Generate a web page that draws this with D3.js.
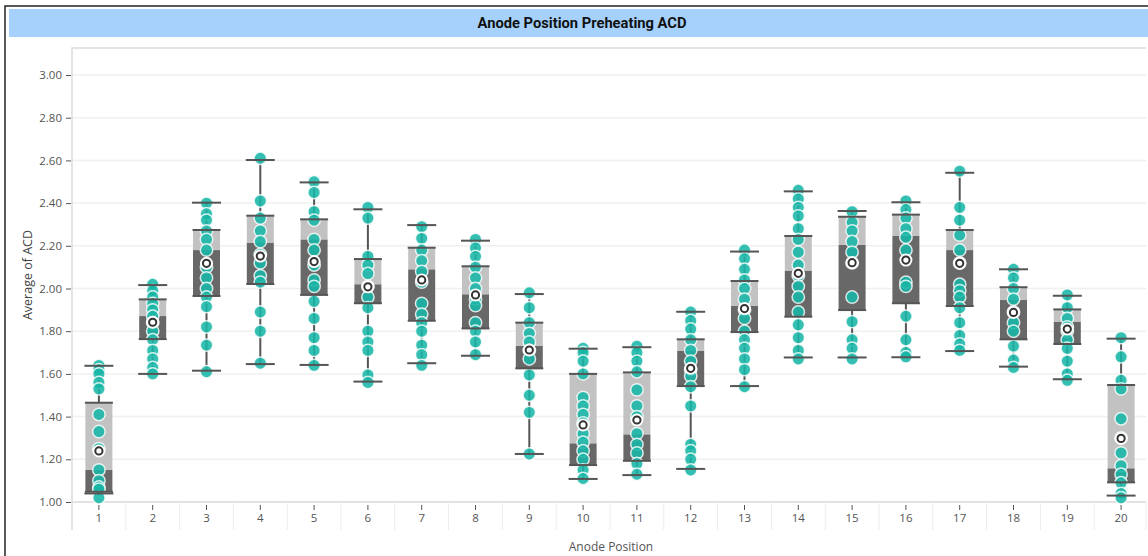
<!DOCTYPE html>
<html>
<head>
<meta charset="utf-8">
<script src="https://cdn.jsdelivr.net/npm/d3@7/dist/d3.min.js"></script>
<style>
  body { margin: 0; background: #fff; }
  svg { display: block; }
</style>
</head>
<body>
<div id="chart"></div>
<script>
// data
const categories = ["1","2","3","4","5","6","7","8","9","10","11","12","13","14","15","16","17","18","19","20"]
const whiskerLow = [1.04, 1.60, 1.615, 1.646, 1.642, 1.564, 1.650, 1.685, 1.225, 1.108, 1.126, 1.155, 1.543, 1.677, 1.677, 1.678, 1.707, 1.634, 1.575, 1.030]
const q1 = [1.048, 1.763, 1.965, 2.021, 1.970, 1.931, 1.849, 1.813, 1.626, 1.173, 1.193, 1.543, 1.796, 1.868, 1.899, 1.931, 1.918, 1.762, 1.740, 1.092]
const medians = [1.150, 1.871, 2.180, 2.215, 2.230, 2.020, 2.090, 1.973, 1.731, 1.275, 1.317, 1.709, 1.918, 2.084, 2.204, 2.246, 2.180, 1.946, 1.845, 1.158]
const q3 = [1.465, 1.949, 2.274, 2.341, 2.324, 2.138, 2.191, 2.104, 1.840, 1.600, 1.607, 1.762, 2.035, 2.246, 2.336, 2.346, 2.274, 2.006, 1.902, 1.548]
const whiskerHigh = [1.638, 2.016, 2.402, 2.602, 2.497, 2.371, 2.297, 2.224, 1.974, 1.718, 1.725, 1.891, 2.173, 2.455, 2.363, 2.404, 2.542, 2.090, 1.966, 1.765]
const means = [1.239, 1.842, 2.118, 2.152, 2.126, 2.008, 2.040, 1.970, 1.712, 1.361, 1.384, 1.626, 1.906, 2.071, 2.121, 2.133, 2.118, 1.888, 1.810, 1.298]
const points = [
  [1.64, 1.62, 1.60, 1.56, 1.53, 1.41, 1.33, 1.25, 1.15, 1.10, 1.07, 1.06, 1.02],
  [2.02, 1.99, 1.96, 1.93, 1.90, 1.87, 1.84, 1.80, 1.76, 1.71, 1.67, 1.63, 1.60],
  [2.40, 2.35, 2.32, 2.27, 2.23, 2.18, 2.10, 2.05, 2.00, 1.96, 1.915, 1.82, 1.735, 1.61],
  [2.61, 2.41, 2.33, 2.27, 2.22, 2.16, 2.12, 2.06, 2.03, 1.89, 1.80, 1.65],
  [2.50, 2.45, 2.36, 2.32, 2.23, 2.18, 2.11, 2.04, 2.01, 1.94, 1.86, 1.77, 1.71, 1.64],
  [2.38, 2.33, 2.15, 2.11, 2.07, 2.01, 1.96, 1.91, 1.80, 1.75, 1.71, 1.595, 1.56],
  [2.29, 2.235, 2.18, 2.13, 2.08, 2.03, 1.93, 1.88, 1.84, 1.80, 1.735, 1.69, 1.64],
  [2.23, 2.19, 2.15, 2.10, 2.05, 2.00, 1.95, 1.92, 1.84, 1.80, 1.75, 1.69],
  [1.98, 1.91, 1.84, 1.79, 1.75, 1.71, 1.67, 1.595, 1.50, 1.42, 1.225],
  [1.72, 1.70, 1.66, 1.60, 1.49, 1.45, 1.41, 1.37, 1.32, 1.28, 1.24, 1.20, 1.15, 1.11],
  [1.73, 1.70, 1.66, 1.61, 1.525, 1.45, 1.40, 1.32, 1.27, 1.23, 1.18, 1.13],
  [1.89, 1.85, 1.81, 1.76, 1.71, 1.66, 1.62, 1.59, 1.54, 1.45, 1.27, 1.24, 1.20, 1.15],
  [2.18, 2.14, 2.09, 2.04, 2.00, 1.95, 1.90, 1.86, 1.80, 1.76, 1.72, 1.67, 1.62, 1.54],
  [2.46, 2.42, 2.38, 2.34, 2.28, 2.23, 2.17, 2.11, 2.06, 2.01, 1.96, 1.89, 1.83, 1.77, 1.71, 1.67],
  [2.36, 2.31, 2.27, 2.22, 2.17, 2.12, 1.96, 1.845, 1.76, 1.72, 1.67],
  [2.41, 2.37, 2.33, 2.28, 2.24, 2.18, 2.03, 2.01, 1.87, 1.76, 1.70, 1.68],
  [2.55, 2.38, 2.32, 2.25, 2.18, 2.12, 2.02, 1.99, 1.96, 1.91, 1.84, 1.78, 1.74, 1.71],
  [2.09, 2.05, 2.00, 1.95, 1.89, 1.84, 1.80, 1.73, 1.665, 1.63],
  [1.97, 1.91, 1.86, 1.82, 1.80, 1.76, 1.72, 1.66, 1.60, 1.57],
  [1.77, 1.68, 1.57, 1.53, 1.39, 1.30, 1.23, 1.17, 1.13, 1.09, 1.04, 1.02]
]
const yTicks = [1.0, 1.2, 1.4, 1.6, 1.8, 2.0, 2.2, 2.4, 2.6, 2.8, 3.0]

const width = 1148, height = 556
const plot = { left: 72, right: 1146, top: 48, bottom: 502 }
const teal = "#17b6a6"
const dark = "#555"

const svg = d3.select("#chart").append("svg")
  .attr("width", width).attr("height", height)

// outer frame + title bar
svg.append("rect").attr("x", 5).attr("y", 6).attr("width", width).attr("height", height)
  .attr("fill", "none").attr("stroke", "#222").attr("stroke-width", 1.5)
svg.append("rect").attr("x", 9).attr("y", 9).attr("width", width - 9).attr("height", 28)
  .attr("fill", "#a5d1fc")
svg.append("text").attr("x", 582).attr("y", 28).attr("text-anchor", "middle")
  .attr("font-family", "Roboto, sans-serif")
  .attr("font-weight", "bold").attr("font-size", 15).attr("fill", "#111")
  .attr("textLength", 209).attr("lengthAdjust", "spacingAndGlyphs")
  .text("Anode Position Preheating ACD")

const x = d3.scaleBand().domain(categories).range([plot.left, 1148])
const y = d3.scaleLinear().domain([1, 3]).range([plot.bottom, 75])
const cx = c => x(c) + x.bandwidth() / 2
const boxW = 27, capW = 29

// grid
svg.append("g").selectAll("line").data(yTicks).join("line")
  .attr("x1", plot.left).attr("x2", plot.right)
  .attr("y1", d => y(d)).attr("y2", d => y(d))
  .attr("stroke", "#f0f0f0").attr("stroke-width", 1.5)

// plot frame
svg.append("path")
  .attr("d", `M${plot.left},${plot.bottom + 28}V${plot.top}H${plot.right}`)
  .attr("fill", "none").attr("stroke", "#dcdcdc").attr("stroke-width", 1.5)
svg.append("line").attr("x1", plot.left).attr("x2", plot.right)
  .attr("y1", plot.bottom).attr("y2", plot.bottom)
  .attr("stroke", "#dcdcdc").attr("stroke-width", 1.5)

// category dividers below the axis
svg.append("g").selectAll("line").data(categories.slice(1).concat(["end"])).join("line")
  .attr("x1", d => d === "end" ? plot.right : x(d)).attr("x2", d => d === "end" ? plot.right : x(d))
  .attr("y1", plot.bottom).attr("y2", plot.bottom + 28)
  .attr("stroke", "#ececec").attr("stroke-width", 1)

// y axis
const yAxis = svg.append("g").attr("transform", `translate(${plot.left - 1},0)`)
  .call(d3.axisLeft(y).tickValues(yTicks).tickFormat(d3.format(".2f")).tickSize(5).tickPadding(4))
yAxis.select(".domain").remove()
yAxis.selectAll(".tick line").attr("stroke", dark)
yAxis.selectAll(".tick text").attr("fill", "#555")
  .attr("font-family", "Open Sans, sans-serif").attr("font-size", 11.5)

// x axis
const xAxis = svg.append("g").attr("transform", `translate(0,${plot.bottom + 3})`)
  .call(d3.axisBottom(x).tickSize(5).tickPadding(4))
xAxis.select(".domain").remove()
xAxis.selectAll(".tick line").attr("stroke", dark)
xAxis.selectAll(".tick text").attr("fill", "#555")
  .attr("font-family", "Open Sans, sans-serif").attr("font-size", 11.5)

// axis titles
svg.append("text").attr("x", 611).attr("y", 551).attr("text-anchor", "middle")
  .attr("font-family", "Open Sans, sans-serif").attr("font-size", 12).attr("fill", "#555")
  .text("Anode Position")
svg.append("text").attr("transform", "translate(32,275) rotate(-90)").attr("text-anchor", "middle")
  .attr("font-family", "Open Sans, sans-serif").attr("font-size", 12.5).attr("fill", "#444")
  .text("Average of ACD")

const boxes = categories.map((c, i) => ({
  c, lo: whiskerLow[i], q1: q1[i], med: medians[i], q3: q3[i], hi: whiskerHigh[i],
  mean: means[i], pts: points[i]
}))

const g = svg.append("g")
const box = g.selectAll("g.box").data(boxes).join("g").attr("class", "box")

// whisker
box.append("line")
  .attr("x1", d => cx(d.c)).attr("x2", d => cx(d.c))
  .attr("y1", d => y(d.lo)).attr("y2", d => y(d.hi))
  .attr("stroke", dark).attr("stroke-width", 2)
// lower half (q1 to median)
box.append("rect")
  .attr("x", d => cx(d.c) - boxW / 2).attr("width", boxW)
  .attr("y", d => y(d.med)).attr("height", d => y(d.q1) - y(d.med))
  .attr("fill", "#686868")
// upper half (median to q3)
box.append("rect")
  .attr("x", d => cx(d.c) - boxW / 2).attr("width", boxW)
  .attr("y", d => y(d.q3)).attr("height", d => y(d.med) - y(d.q3))
  .attr("fill", "#c2c2c2")

// points
box.selectAll("circle.pt").data(d => d.pts.map(v => ({ c: d.c, v }))).join("circle")
  .attr("class", "pt")
  .attr("cx", d => cx(d.c)).attr("cy", d => y(d.v)).attr("r", 6.2)
  .attr("fill", teal).attr("fill-opacity", 0.88)
  .attr("stroke", "#fff").attr("stroke-opacity", 0.8).attr("stroke-width", 1.5)

// box edges and caps
const hLines = d => [
  { v: d.q3, w: boxW + 1 }, { v: d.q1, w: boxW + 1 },
  { v: d.hi, w: capW }, { v: d.lo, w: capW }
].map(l => ({ ...l, c: d.c }))
box.selectAll("line.cap").data(hLines).join("line").attr("class", "cap")
  .attr("x1", d => cx(d.c) - d.w / 2).attr("x2", d => cx(d.c) + d.w / 2)
  .attr("y1", d => y(d.v)).attr("y2", d => y(d.v))
  .attr("stroke", dark).attr("stroke-width", 2)

// mean marker
box.append("circle")
  .attr("cx", d => cx(d.c)).attr("cy", d => y(d.mean)).attr("r", 6.5)
  .attr("fill", "#fff")
box.append("circle")
  .attr("cx", d => cx(d.c)).attr("cy", d => y(d.mean)).attr("r", 3.6)
  .attr("fill", "#fff").attr("stroke", "#333").attr("stroke-width", 2)
</script>
</body>
</html>
